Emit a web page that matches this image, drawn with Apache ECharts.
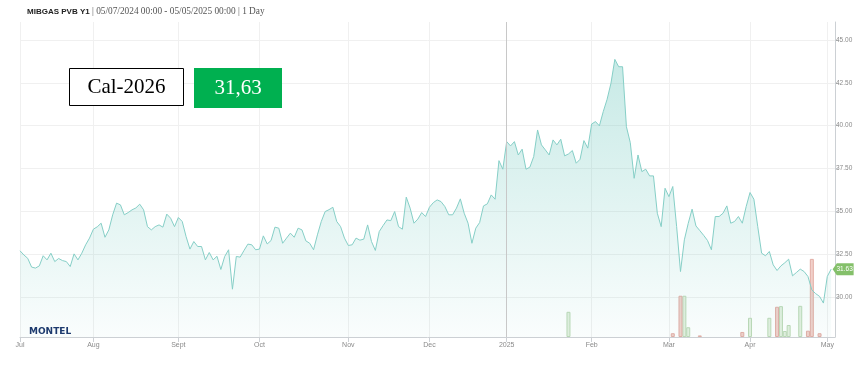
<!DOCTYPE html>
<html><head><meta charset="utf-8">
<script src="https://cdn.jsdelivr.net/npm/echarts@6/dist/echarts.min.js"></script>
<style>html,body{margin:0;padding:0;background:#fff}#c{width:868px;height:367px}</style>
</head><body><div id="c"></div>
<script>
// ---- data ----
const startDate = '2024-07-05';
const endDate = '2025-05-05';
const holidays = ['2024-12-25','2024-12-26','2025-01-01','2025-04-18','2025-04-21'];
const monthTickDates = ['2024-07-05','2024-08-01','2024-09-02','2024-10-01','2024-11-01','2024-12-02','2025-01-02','2025-02-03','2025-03-03','2025-04-01','2025-05-01'];
const monthTickLabels = ['Jul','Aug','Sept','Oct','Nov','Dec','2025','Feb','Mar','Apr','May'];
const yTickValues = [30, 32.5, 35, 37.5, 40, 42.5, 45];
const prices = [
32.70,32.46,32.26,31.75,31.69,31.82,32.41,32.17,32.56,32.07,
32.25,32.13,32.07,31.78,32.52,32.17,32.56,33.05,33.44,33.96,
34.10,34.31,33.49,33.92,34.80,35.48,35.38,34.80,34.93,35.09,
35.20,35.42,35.09,34.11,33.92,34.11,34.21,34.08,34.84,34.60,
34.11,34.64,34.41,33.53,32.80,33.24,32.95,32.95,32.17,32.60,
32.17,32.38,31.61,32.37,32.76,30.46,32.37,32.33,32.72,33.09,
33.05,32.76,32.80,33.57,33.10,33.30,34.08,34.02,33.14,33.44,
33.73,33.49,34.02,33.92,33.28,33.14,32.76,33.63,34.41,34.99,
35.10,35.24,34.41,34.11,33.44,33.01,33.05,33.44,33.32,33.38,
34.21,33.24,32.72,33.82,34.17,34.50,34.46,34.99,34.11,33.96,
35.83,35.19,34.31,34.55,34.93,34.70,35.24,35.51,35.67,35.57,
35.28,34.80,34.80,35.19,35.73,34.89,34.31,33.14,34.02,34.35,
35.32,35.44,35.96,35.71,37.96,37.46,39.07,38.82,39.07,38.29,
38.63,37.46,37.58,38.20,39.75,38.88,38.59,38.29,39.17,38.88,
39.21,38.24,38.35,38.55,37.81,38.04,39.13,38.69,40.10,40.24,
39.99,40.82,41.54,42.48,43.87,43.44,43.44,39.94,39.01,36.93,
38.29,37.32,37.46,37.07,37.07,34.89,34.11,36.35,35.86,36.45,
34.11,31.49,33.34,34.30,35.13,34.15,33.88,33.60,33.30,32.76,
34.70,34.70,34.89,35.32,34.31,34.41,34.70,34.31,35.28,36.10,
35.71,34.11,32.56,32.41,32.66,31.88,31.55,31.82,32.00,32.21,
31.24,31.43,31.63,31.49,31.20,30.42,30.20,30.04,29.65,31.20,
31.63
];
const greenVolDates = ['2025-01-24','2025-03-07','2025-03-10','2025-04-01','2025-04-08','2025-04-11','2025-04-14','2025-04-15','2025-04-22'];
const greenVolValues = [8.0,13.1,3.1,6.1,6.1,9.8,1.9,3.8,9.9];
const redVolDates = ['2025-03-04','2025-03-06','2025-03-13','2025-03-28','2025-04-10','2025-04-24','2025-04-25','2025-04-29'];
const redVolValues = [1.2,13.1,0.5,1.6,9.6,2.0,24.8,1.2];
const titleMain = 'MIBGAS PVB Y1';
const titleRest = ' | 05/07/2024 00:00 - 05/05/2025 00:00 | 1 Day';
const contractName = 'Cal-2026';

// ---- trading-day categories ----
const categories = [];
(function(){
  let d = new Date(startDate + 'T00:00:00Z');
  const end = new Date(endDate + 'T00:00:00Z');
  while (d <= end) {
    const s = d.toISOString().slice(0,10);
    const wd = d.getUTCDay();
    if (wd !== 0 && wd !== 6 && holidays.indexOf(s) < 0) categories.push(s);
    d = new Date(d.getTime() + 86400000);
  }
})();
const tickLabelMap = {};
monthTickDates.forEach((d,i)=>{ tickLabelMap[d] = monthTickLabels[i]; });
const isTick = (idx, val) => tickLabelMap.hasOwnProperty(val);

const lastIdx = prices.length - 1;
const lastPrice = prices[lastIdx];

const chart = echarts.init(document.getElementById('c'), null, {renderer: 'canvas'});
chart.setOption({
  animation: false,
  backgroundColor: '#fff',
  grid: {left: 20, right: 33, top: 22, bottom: 30, containLabel: false},
  xAxis: {
    type: 'category',
    data: categories,
    boundaryGap: false,
    axisLine: {show: true, lineStyle: {color: '#ccd0d4', width: 1}},
    axisTick: {show: true, interval: isTick, length: 5, lineStyle: {color: '#ccd0d4'}},
    axisLabel: {interval: isTick, formatter: v => tickLabelMap[v] || '', color: '#8a8a8a', fontSize: 7, fontFamily: 'Liberation Sans', margin: 5},
    splitLine: {show: true, interval: isTick, lineStyle: {color: '#f0f0f0', width: 1}}
  },
  yAxis: [{
    type: 'value',
    position: 'right',
    min: 27.67,
    max: 46.05,
    axisLine: {show: true, lineStyle: {color: '#ccd0d4'}},
    axisTick: {show: true, customValues: yTickValues, length: 3, lineStyle: {color: '#ccd0d4'}},
    axisLabel: {customValues: yTickValues, formatter: v => v.toFixed(2), color: '#8a8a8a', fontSize: 6.5, fontFamily: 'Liberation Sans', margin: 1},
    splitLine: {show: true, lineStyle: {color: '#f0f0f0', width: 1}}
  }, {
    type: 'value', show: false, min: 0, max: 100,
    splitLine: {show: false}
  }],
  series: [{
    type: 'line',
    name: titleMain,
    data: prices,
    symbol: 'none',
    lineStyle: {color: '#86cfc7', width: 1},
    areaStyle: {color: new echarts.graphic.LinearGradient(0,0,0,1,[
      {offset: 0, color: 'rgba(110,200,190,0.55)'},
      {offset: 1, color: 'rgba(110,200,190,0.05)'}
    ])},
    z: 3,
    markLine: {
      silent: true, symbol: ['none','none'], label: {show: false},
      lineStyle: {color: '#c8c8c8', type: 'solid', width: 1},
      data: [{xAxis: monthTickDates[6]}]
    },
    markPoint: {
      silent: true,
      symbol: 'path://M0,6 L6,0 L30,0 L30,12 L6,12 Z',
      symbolKeepAspect: false,
      symbolSize: [21, 12],
      symbolOffset: [12, 0],
      itemStyle: {color: '#84c06a'},
      label: {show: true, color: '#fff', fontSize: 6.5, fontFamily: 'Liberation Sans', offset: [1.5, 0], formatter: p => p.value.toFixed(2)},
      data: [{coord: [categories[lastIdx], lastPrice], value: lastPrice}]
    }
  }, {
    type: 'bar',
    yAxisIndex: 1,
    barWidth: 4,
    barGap: '-100%',
    itemStyle: {color: '#e3f0df', borderColor: '#bcd8b5', borderWidth: 1},
    data: greenVolDates.map((d,i)=>[d, greenVolValues[i]]),
    z: 2
  }, {
    type: 'bar',
    yAxisIndex: 1,
    barWidth: 4,
    barGap: '-100%',
    itemStyle: {color: '#f1d0ca', borderColor: '#e2aca4', borderWidth: 1},
    data: redVolDates.map((d,i)=>[d, redVolValues[i]]),
    z: 2
  }],
  graphic: [
    {type: 'text', left: 27, top: 7, style: {
      text: '{b|' + titleMain + '}{n|' + titleRest + '}',
      rich: {
        b: {fontFamily: 'Liberation Sans', fontWeight: 'bold', fontSize: 8, fill: '#222'},
        n: {fontFamily: 'Liberation Serif', fontSize: 9.3, fill: '#555'}
      }
    }},
    {type: 'rect', shape: {x: 69.5, y: 68.5, width: 114, height: 37}, style: {fill: '#fff', stroke: '#000', lineWidth: 1}, z: 10},
    {type: 'text', x: 126.5, y: 87.5, style: {text: contractName, fontFamily: 'Liberation Serif', fontSize: 21, fill: '#000', align: 'center', verticalAlign: 'middle'}, z: 11},
    {type: 'rect', shape: {x: 194, y: 68, width: 88, height: 40}, style: {fill: '#00b050'}, z: 10},
    {type: 'text', x: 238, y: 88, style: {text: lastPrice.toFixed(2).replace('.', ','), fontFamily: 'Liberation Serif', fontSize: 21, fill: '#fff', align: 'center', verticalAlign: 'middle'}, z: 11},
    {type: 'text', left: 29, top: 327, style: {text: 'MONTEL', fontFamily: 'DejaVu Sans', fontWeight: 'bold', fontSize: 9, fill: '#1d3a6e'}, z: 11}
  ]
});
</script>
</body></html>
